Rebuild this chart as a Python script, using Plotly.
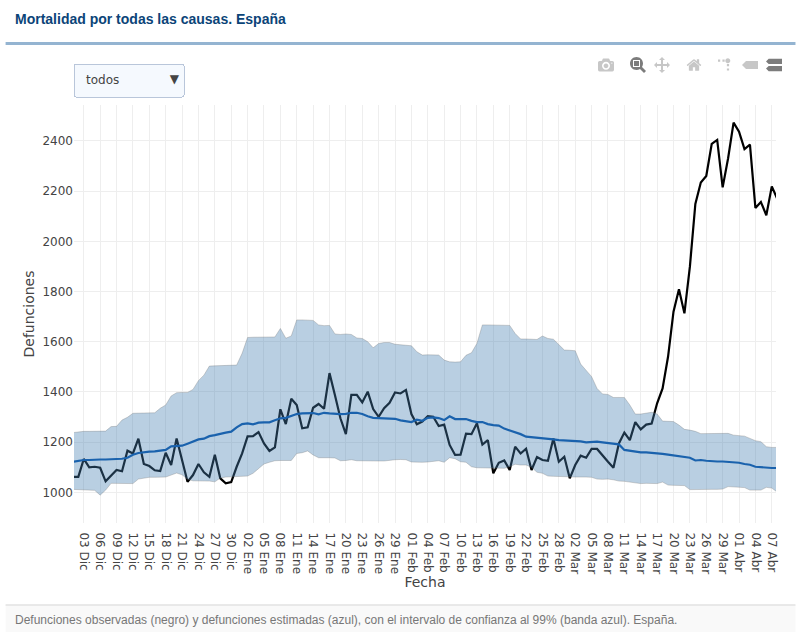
import pandas as pd
import plotly.graph_objects as go

W, H = 803, 641

observed = [1062,1062,1133,1100,1102,1098,1044,1066,1089,1084,
            1166,1155,1214,1113,1105,1088,1085,1158,1109,1215,
            1129,1042,1069,1113,1080,1062,1150,1056,1036,1041,
            1102,1155,1223,1224,1240,1195,1165,1179,1331,1272,
            1373,1348,1255,1259,1337,1352,1333,1475,1387,1295,
            1232,1388,1388,1358,1401,1332,1301,1335,1357,1398,
            1394,1408,1312,1271,1282,1304,1301,1264,1270,1189,
            1149,1150,1234,1232,1275,1190,1208,1076,1118,1127,
            1089,1182,1155,1174,1089,1141,1129,1126,1215,1122,
            1142,1056,1109,1146,1138,1173,1173,1146,1122,1098,
            1195,1238,1208,1280,1251,1270,1274,1355,1414,1540,
            1720,1809,1713,1899,2149,2234,2260,2388,2404,2215,
            2331,2473,2437,2367,2385,2133,2157,2104,2219,2169]

estimated = [1122,1126,1129,1129,1131,1131,1131,1131,1133,1134,
             1138,1150,1157,1161,1162,1163,1165,1169,1183,1185,
             1186,1194,1202,1211,1214,1224,1228,1234,1238,1242,
             1259,1272,1275,1271,1278,1279,1279,1287,1295,1297,
             1304,1312,1315,1316,1316,1311,1317,1315,1313,1312,
             1313,1317,1317,1312,1303,1297,1296,1295,1295,1293,
             1287,1283,1280,1290,1285,1297,1299,1296,1288,1303,
             1292,1292,1292,1285,1280,1280,1272,1268,1266,1254,
             1247,1242,1232,1222,1220,1219,1216,1214,1211,1208,
             1207,1206,1206,1203,1199,1202,1202,1199,1197,1194,
             1191,1169,1165,1162,1159,1159,1158,1155,1153,1150,
             1147,1145,1142,1138,1127,1129,1126,1123,1123,1123,
             1122,1121,1118,1113,1110,1102,1100,1098,1097,1097]

upper = [1238,1241,1243,1243,1244,1244,1244,1262,1263,1288,
         1299,1315,1316,1316,1316,1317,1335,1348,1384,1397,
         1398,1398,1410,1445,1467,1503,1504,1505,1505,1506,
         1507,1554,1617,1618,1618,1618,1618,1619,1653,1614,
         1623,1687,1687,1687,1685,1667,1664,1665,1631,1629,
         1631,1629,1615,1613,1600,1576,1593,1597,1597,1590,
         1588,1588,1584,1560,1547,1548,1548,1547,1527,1520,
         1519,1520,1546,1556,1593,1667,1667,1667,1667,1668,
         1665,1633,1611,1611,1609,1609,1623,1613,1610,1587,
         1567,1566,1564,1511,1487,1461,1414,1392,1390,1378,
         1378,1378,1348,1312,1312,1317,1319,1312,1284,1283,
         1282,1268,1251,1248,1243,1234,1234,1235,1236,1235,
         1235,1228,1227,1224,1215,1206,1202,1182,1179,1179]

lower = [1012,1011,1011,1009,1008,989,1009,1036,1036,1036,
         1035,1035,1053,1058,1060,1060,1060,1061,1069,1077,
         1070,1052,1046,1046,1045,1045,1042,1057,1061,1062,
         1062,1062,1065,1076,1093,1113,1120,1126,1127,1127,
         1127,1155,1158,1165,1149,1138,1139,1138,1137,1126,
         1127,1130,1126,1125,1124,1125,1125,1125,1129,1130,
         1131,1130,1121,1120,1120,1121,1122,1126,1120,1138,
         1134,1122,1120,1102,1098,1098,1097,1097,1096,1096,
         1102,1112,1109,1109,1100,1080,1076,1065,1064,1064,
         1064,1062,1061,1062,1061,1060,1053,1052,1053,1050,
         1045,1044,1041,1035,1035,1036,1035,1035,1041,1029,
         1028,1029,1027,1011,1012,1013,1013,1012,1012,1013,
         1023,1021,1019,1019,1009,1008,1009,1020,1017,1001]

tick_labels = ["03 Dic","06 Dic","09 Dic","12 Dic","15 Dic","18 Dic","21 Dic","24 Dic","27 Dic","30 Dic",
               "02 Ene","05 Ene","08 Ene","11 Ene","14 Ene","17 Ene","20 Ene","23 Ene","26 Ene","29 Ene",
               "01 Feb","04 Feb","07 Feb","10 Feb","13 Feb","16 Feb","19 Feb","22 Feb","25 Feb","28 Feb",
               "02 Mar","05 Mar","08 Mar","11 Mar","14 Mar","17 Mar","20 Mar","23 Mar","26 Mar","29 Mar",
               "01 Abr","04 Abr","07 Abr"]

assert len(observed) == len(estimated) == len(upper) == len(lower) == 130

dates = pd.date_range("2019-12-01", periods=130, freq="D")
tick_dates = dates[2::3][:len(tick_labels)]

# plot area in window pixels
L, R, T, B = 73.5, 776.5, 105, 523


def px(x):
    return (x - L) / (R - L)


def py(y):
    return (B - y) / (B - T)


tick_font = dict(family="DejaVu Sans", size=12, color="#444")
fig = go.Figure()

# the black line goes under the band, as in the original
fig.add_trace(go.Scatter(x=dates, y=observed, mode="lines", name="observadas",
                         line=dict(color="#000000", width=2.2)))
fig.add_trace(go.Scatter(x=dates, y=lower, mode="lines", name="inferior",
                         line=dict(color="rgba(110,110,110,0.3)", width=1)))
fig.add_trace(go.Scatter(x=dates, y=upper, mode="lines", name="superior", fill="tonexty",
                         fillcolor="rgba(70,130,180,0.38)",
                         line=dict(color="rgba(110,110,110,0.3)", width=1)))
fig.add_trace(go.Scatter(x=dates, y=estimated, mode="lines", name="estimadas",
                         line=dict(color="#1a62ad", width=2.2)))

fig.update_xaxes(range=["2019-12-01 05:00", "2020-04-07 18:30"], tickmode="array",
                 tickvals=tick_dates, ticktext=tick_labels, tickangle=90, tickfont=tick_font,
                 ticks="outside", ticklen=6, tickcolor="rgba(0,0,0,0)",
                 gridcolor="#eeeeee", zeroline=False, showline=False,
                 title=dict(text="Fecha", font=dict(family="DejaVu Sans", size=14, color="#444"), standoff=4))
fig.update_yaxes(range=[878, 2543], dtick=200, tickfont=tick_font,
                 gridcolor="#eeeeee", zeroline=False, showline=False,
                 title=dict(text="Defunciones", font=dict(family="DejaVu Sans", size=14, color="#444"), standoff=4))

# header and footer of the page around the chart
fig.add_shape(type="rect", xref="paper", yref="paper", layer="below",
              x0=px(5), x1=px(796), y0=py(632), y1=py(605),
              fillcolor="#f9f9f9", line_width=0)
fig.add_shape(type="line", xref="paper", yref="paper", layer="below",
              x0=px(5), x1=px(796), y0=py(605), y1=py(605),
              line=dict(color="#e2e2e2", width=1.5))
fig.add_shape(type="line", xref="paper", yref="paper", layer="below",
              x0=px(5), x1=px(796), y0=py(43.5), y1=py(43.5),
              line=dict(color="#94b4d1", width=3))
fig.add_annotation(xref="paper", yref="paper", x=px(12), y=py(19), xanchor="left", yanchor="middle",
                   showarrow=False, text="<b>Mortalidad por todas las causas. España</b>",
                   font=dict(family="Liberation Sans", size=14, color="#0b4478"))
fig.add_annotation(xref="paper", yref="paper", x=px(12), y=py(619.5), xanchor="left", yanchor="middle",
                   showarrow=False,
                   text="Defunciones observadas (negro) y defunciones estimadas (azul), con el intervalo de confianza al 99% (banda azul). España.",
                   font=dict(family="Liberation Sans", size=12, color="#777777"))

# second blank entry only gives the closed menu the size of the original one
fig.update_layout(
    width=W, height=H, margin=dict(l=L, r=W - R, t=T, b=H - B),
    paper_bgcolor="#ffffff", plot_bgcolor="#ffffff", showlegend=False, hovermode="x",
    modebar=dict(bgcolor="rgba(255,255,255,0)", color="rgba(68,68,68,0.3)", activecolor="rgba(68,68,68,0.7)"),
    updatemenus=[dict(type="dropdown", active=0, x=px(72), y=py(63), xanchor="left", yanchor="top",
                      pad=dict(l=0, r=0, t=0, b=0), bgcolor="#f5f9fe", bordercolor="#b9c6da", borderwidth=1,
                      font=dict(family="DejaVu Sans", size=12, color="#444"),
                      buttons=[dict(label="todos", method="skip"),
                               dict(label='<span style="font-size:20px">' + "\u00a0" * 11 + "</span>", method="skip")])],
)

page_css = """
var s = document.createElement('style');
s.textContent = 'body{margin:0;overflow:hidden} .modebar-container{top:52px !important} .modebar{right:17px !important}';
document.head.appendChild(s);
"""

config = dict(displayModeBar=True, displaylogo=False,
              modeBarButtons=[["toImage"], ["zoom2d", "pan2d"], ["resetScale2d"],
                              ["toggleSpikelines", "hoverClosestCartesian", "hoverCompareCartesian"]])
fig.write_html("out.html", config=config, post_script=page_css)
